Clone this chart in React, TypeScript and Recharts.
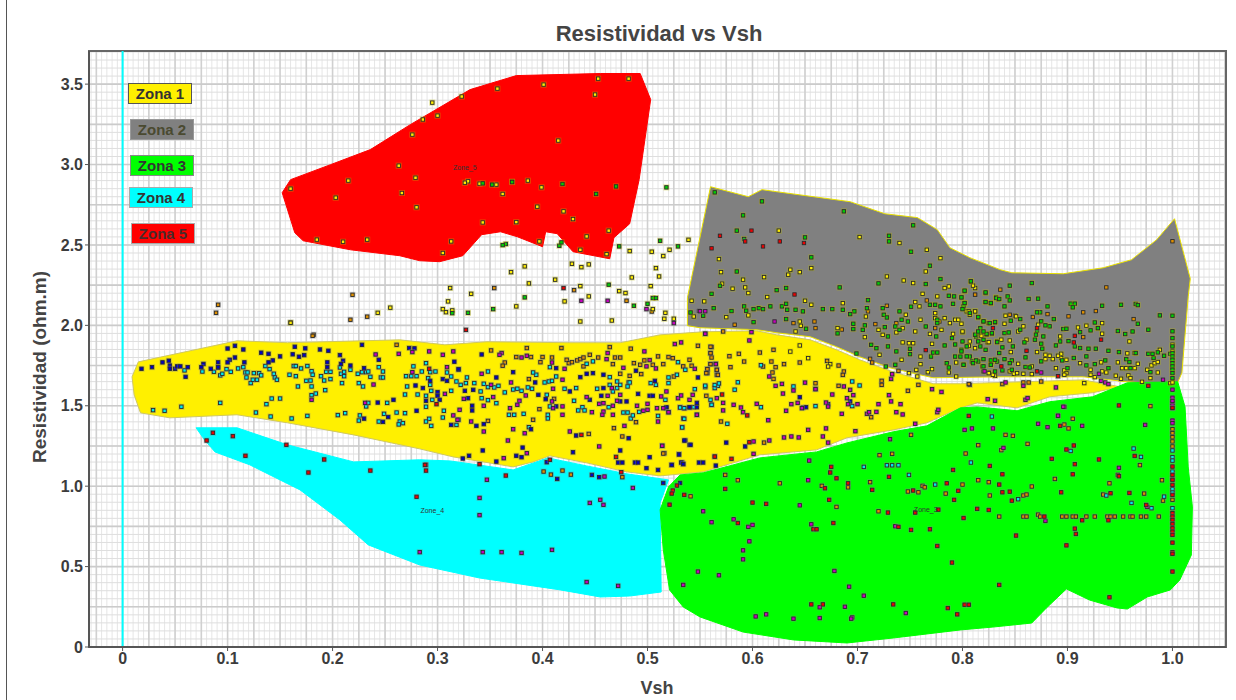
import React from 'react';
import {
  ScatterChart,
  Scatter,
  XAxis,
  YAxis,
  CartesianGrid,
  ReferenceLine,
  ReferenceArea,
  ReferenceDot,
} from 'recharts';

type Pt = [number, number];

const xTicks = [0, 0.1, 0.2, 0.3, 0.4, 0.5, 0.6, 0.7, 0.8, 0.9, 1.0];
const yTicks = [0, 0.5, 1.0, 1.5, 2.0, 2.5, 3.0, 3.5];
const xDomain: Pt = [-0.032, 1.051];
const yDomain: Pt = [0, 3.706];

const zone1: Pt[] = [[.009,1.68],[.011,1.568],[.017,1.456],[.045,1.425],[.109,1.444],[.157,1.394],[.22,1.319],[.283,1.232],[.315,1.182],[.372,1.12],[.391,1.151],[.407,1.189],[.442,1.145],[.48,1.089],[.512,1.064],[.553,1.089],[.607,1.195],[.661,1.226],[.69,1.301],[.734,1.35],[.766,1.394],[.798,1.487],[.814,1.518],[.852,1.487],[.883,1.556],[.924,1.581],[.95,1.618],[.915,1.661],[.798,1.637],[.772,1.637],[.731,1.717],[.702,1.786],[.68,1.848],[.655,1.91],[.623,1.941],[.604,1.966],[.553,1.96],[.512,1.941],[.474,1.892],[.426,1.892],[.347,1.898],[.307,1.879],[.264,1.91],[.157,1.892],[.109,1.904],[.015,1.773],[.009,1.68]];
const zone2: Pt[] = [[.56,2.862],[.596,2.8],[.609,2.844],[.623,2.831],[.693,2.769],[.726,2.694],[.757,2.67],[.776,2.595],[.788,2.483],[.807,2.421],[.836,2.346],[.847,2.327],[.896,2.321],[.934,2.358],[.961,2.408],[.985,2.533],[1.002,2.663],[1.017,2.29],[1.015,2.178],[1.009,1.705],[1.004,1.63],[.957,1.649],[.915,1.68],[.836,1.68],[.772,1.674],[.731,1.736],[.702,1.805],[.68,1.867],[.655,1.929],[.623,1.954],[.604,1.973],[.55,1.985],[.538,1.998],[.538,2.172],[.56,2.862]];
const zone3: Pt[] = [[.512,.853],[.515,.604],[.521,.355],[.534,.249],[.55,.187],[.591,.093],[.639,.044],[.69,.025],[.734,.056],[.798,.106],[.829,.124],[.866,.149],[.88,.243],[.899,.361],[.921,.292],[.947,.243],[.957,.236],[.976,.311],[.998,.355],[1.007,.417],[1.018,.572],[1.019,.871],[1.015,1.12],[1.012,1.493],[1.005,1.649],[.957,1.643],[.924,1.556],[.883,1.525],[.852,1.469],[.814,1.493],[.798,1.487],[.766,1.375],[.734,1.338],[.69,1.269],[.661,1.213],[.607,1.176],[.553,1.083],[.531,1.07],[.52,.996],[.512,.853]];
const zone4: Pt[] = [[.07,1.363],[.109,1.363],[.157,1.257],[.22,1.151],[.283,1.164],[.312,1.157],[.372,1.101],[.405,1.176],[.442,1.126],[.48,1.077],[.52,1.039],[.512,.896],[.513,.342],[.483,.317],[.455,.311],[.417,.355],[.34,.429],[.283,.51],[.234,.635],[.207,.79],[.169,.977],[.121,1.133],[.088,1.213],[.078,1.288],[.07,1.363]];
const zone5: Pt[] = [[.152,2.825],[.164,2.576],[.172,2.526],[.217,2.47],[.264,2.433],[.283,2.402],[.302,2.396],[.324,2.433],[.342,2.564],[.36,2.582],[.376,2.551],[.4,2.489],[.403,2.582],[.414,2.57],[.429,2.458],[.464,2.414],[.468,2.545],[.483,2.632],[.492,2.906],[.503,3.404],[.493,3.566],[.455,3.566],[.375,3.553],[.331,3.466],[.274,3.248],[.236,3.093],[.198,2.999],[.16,2.906],[.152,2.825]];

const bluePts: Pt[] = [[.018,1.73],[.028,1.74],[.038,1.77],[.044,1.78],[.045,1.75],[.045,1.73],[.05,1.73],[.052,1.745],[.055,1.745],[.062,1.74],[.06,1.68],[.077,1.76],[.075,1.74],[.084,1.73],[.091,1.77],[.091,1.74],[.1,1.856],[.107,1.873],[.115,1.85],[.107,1.8],[.102,1.786],[.1,1.77],[.116,1.77],[.132,1.83],[.139,1.823],[.15,1.807],[.143,1.782],[.139,1.77],[.164,1.867],[.174,1.857],[.162,1.82],[.168,1.805],[.173,1.815],[.188,1.85],[.196,1.842],[.207,1.815],[.21,1.78],[.208,1.76],[.195,1.77],[.195,1.74],[.217,1.75],[.228,1.879],[.23,1.734],[.244,1.786],[.273,1.859],[.278,1.857],[.279,1.626],[.28,1.469],[.258,1.537],[.243,1.52],[.23,1.42],[.253,1.43],[.248,1.4],
  [.342,1.819],[.316,1.774],[.372,1.709],[.32,1.728],[.293,1.655],[.305,1.666],[.309,1.655],[.286,1.61],[.3,1.585],[.3,1.562],[.289,1.531],[.302,1.537],[.326,1.593],[.334,1.599],[.356,1.676],[.329,1.547],[.333,1.5],[.333,1.471],[.313,1.381],[.337,1.375],[.344,1.386],[.389,1.354],[.413,1.734],[.393,1.645],[.396,1.568],[.403,1.541],[.413,1.496],[.426,1.589],[.436,1.678],[.442,1.699],[.448,1.703],[.458,1.693],[.445,1.537],[.458,1.61],[.456,1.562],[.474,1.527],[.48,1.527],[.491,1.574],[.502,1.562],[.505,1.562],[.489,1.718],[.507,1.655],[.518,1.485],[.548,1.676],[.54,1.491],[.547,1.491],[.536,1.284],[.54,1.257],[.343,1.222],[.324,1.172],[.33,1.189],[.356,1.153],[.375,1.189],[.38,1.18],[.381,1.24],[.429,1.211],[.432,1.315],[.482,1.298],[.474,1.222],[.472,1.147],[.476,1.147],[.488,1.147],[.491,1.147],[.502,1.18],[.499,1.112],[.51,1.101],[.523,1.132],[.53,1.199],[.533,1.147],[.534,1.139],[.549,1.147],[.553,1.147],[.565,1.128],[.447,1.07],[.454,1.056],[.414,1.045],[.404,1.149],
  [.535,1.284],[.541,1.257],[.53,1.197],[.575,1.271],[.593,1.247],[.523,1.132],[.532,1.147],[.534,1.137],[.515,1.02],[.531,1.02],[.547,1.518],[.518,1.491],[.651,1.491],[.672,1.51],[.693,1.527],[.645,1.553]];

const cyanPts: Pt[] = [[.029,1.473],[.04,1.469],[.056,1.494],[.093,1.518],[.059,1.72],[.076,1.713],[.087,1.711],[.091,1.736],[.093,1.689],[.095,1.699],[.099,1.728],[.103,1.711],[.11,1.732],[.115,1.74],[.117,1.707],[.119,1.707],[.118,1.676],[.122,1.641],[.124,1.662],[.128,1.662],[.125,1.703],[.13,1.703],[.132,1.689],[.136,1.747],[.14,1.728],[.144,1.699],[.145,1.676],[.147,1.662],[.142,1.545],[.15,1.545],[.137,1.51],[.127,1.458],[.141,1.433],[.161,1.421],[.176,1.437],[.159,1.693],[.165,1.684],[.163,1.747],[.165,1.747],[.17,1.732],[.176,1.747],[.18,1.715],[.181,1.693],[.175,1.655],[.179,1.657],[.167,1.62],[.18,1.62],[.184,1.576],[.18,1.566],[.193,1.597],[.189,1.684],[.192,1.657],[.198,1.666],[.194,1.711],[.198,1.711],[.207,1.738],[.208,1.699],[.211,1.711],[.211,1.684],[.209,1.641],[.217,1.724],[.225,1.641],[.229,1.62],[.224,1.699],[.228,1.709],[.232,1.709],[.234,1.713],[.236,1.68],[.246,1.676],[.248,1.676],[.244,1.74],[.248,1.713],[.27,1.684],[.275,1.684],[.277,1.745],[.28,1.684],[.271,1.62],[.269,1.57],[.281,1.57],[.252,1.518],[.234,1.518],[.232,1.496],[.205,1.442],[.212,1.454],[.226,1.44],[.225,1.408],[.249,1.45],[.244,1.402],[.261,1.458],[.269,1.454],[.264,1.402],[.267,1.392],[.263,1.384],
  [.289,1.765],[.285,1.713],[.293,1.709],[.298,1.713],[.309,1.707],[.313,1.682],[.32,1.724],[.291,1.672],[.293,1.63],[.294,1.593],[.289,1.562],[.295,1.537],[.289,1.494],[.306,1.469],[.305,1.427],[.32,1.413],[.292,1.419],[.289,1.402],[.294,1.375],[.318,1.381],[.313,1.593],[.318,1.651],[.322,1.63],[.328,1.676],[.327,1.641],[.335,1.641],[.344,1.637],[.348,1.616],[.348,1.713],[.341,1.589],[.342,1.547],[.348,1.535],[.354,1.614],[.358,1.624],[.356,1.516],[.364,1.583],[.372,1.601],[.376,1.606],[.38,1.593],[.386,1.614],[.39,1.606],[.394,1.693],[.391,1.707],[.402,1.645],[.406,1.651],[.409,1.655],[.413,1.682],[.404,1.568],[.407,1.496],[.405,1.444],[.405,1.421],[.368,1.444],[.373,1.444],[.382,1.45],[.387,1.367],[.407,1.74],[.421,1.606],[.432,1.61],[.43,1.531],[.434,1.471],[.438,1.491],[.44,1.471],[.442,1.761],[.448,1.776],[.452,1.606],[.463,1.491],[.464,1.678],[.471,1.651],[.471,1.61],[.464,1.63],[.467,1.589],[.474,1.63],[.482,1.645],[.483,1.645],[.481,1.62],[.477,1.458],[.481,1.458],[.484,1.421],[.486,1.44],[.492,1.462],[.503,1.641],[.508,1.63],[.517,1.537],[.52,1.676],[.528,1.693],[.52,1.641],[.529,1.771],[.536,1.724],[.545,1.603],[.555,1.616],[.564,1.61],[.567,1.624],[.56,1.537],[.561,1.506],[.531,1.491],[.535,1.485],[.544,1.491],[.534,1.421],[.533,1.367],[.51,1.437],
  [.555,1.625],[.564,1.629],[.568,1.639],[.586,1.646],[.583,1.6],[.608,1.752],[.639,1.62],[.695,1.651],[.702,1.626],[.535,1.419],[.533,1.365],[.576,1.388],[.561,1.506],[.608,1.491],[.54,1.489],[.535,1.485],[.531,1.489],[.648,1.489],[.66,1.498],[.695,1.498],[.706,1.12],[.728,1.13],[.733,1.13],[.739,1.13],[.749,1.07],[.774,1.01],[.828,1.433],[.808,1.147],[.903,1.219],[.963,1.234],[.97,1.182],[.937,.942],[.853,.919],[.961,.896],[.992,.935],[.98,.863],[1,1.222],[1,1.18],[1,1.159],[1,1.091],[1,.981],[1,.96],[1,.863]];

const magentaPts: Pt[] = [[.241,1.819],[.263,1.823],[.276,1.834],[.239,1.632],[.231,1.518],[.18,1.537],[.276,1.709],
  [.292,1.838],[.305,1.817],[.315,1.838],[.309,1.74],[.342,1.699],[.361,1.828],[.359,1.817],[.385,1.811],[.38,1.8],[.409,1.769],[.421,1.73],[.462,1.828],[.461,1.79],[.477,1.736],[.497,1.838],[.502,1.784],[.499,1.745],[.508,1.732],[.526,1.884],[.532,1.894],[.555,1.948],[.545,1.73],[.419,1.662],[.41,1.606],[.351,1.63],[.37,1.645],[.353,1.554],[.325,1.543],[.307,1.574],[.321,1.475],[.315,1.44],[.319,1.413],[.332,1.402],[.344,1.5],[.369,1.485],[.378,1.531],[.376,1.506],[.384,1.564],[.372,1.354],[.383,1.329],[.344,1.34],[.367,1.284],[.426,1.34],[.454,1.247],[.478,1.375],[.514,1.251],[.51,1.402],[.547,1.444],[.419,1.444],[.41,1.485],[.409,1.527],[.419,1.496],[.442,1.554],[.447,1.46],[.458,1.464],[.457,1.444],[.467,1.444],[.454,1.512],[.467,1.5],[.471,1.531],[.458,1.516],[.462,1.562],[.466,1.61],[.474,1.568],[.49,1.5],[.496,1.469],[.5,1.475],[.5,1.512],[.509,1.485],[.513,1.558],[.518,1.589],[.52,1.46],[.529,1.547],[.532,1.564],[.54,1.537],[.543,1.568],[.566,1.547],[.363,1.174],[.385,1.205],[.459,1.06],
  [.437,2.153],[.462,2.153],[.499,2.101],[.525,2.014],[.549,2.09],[.555,1.948],[.599,1.958],[.597,1.906],[.621,2.024],[.565,1.759],[.616,1.682],[.622,1.624],[.628,1.636],[.639,1.595],[.65,1.644],[.66,1.603],[.629,1.576],[.676,1.57],[.687,1.62],[.693,1.599],[.69,1.547],[.696,1.566],[.73,1.566],[.732,1.667],[.733,1.696],[.771,1.603],[.78,1.586],[.555,2.088],[.55,2.088],
  [.515,1.485],[.52,1.46],[.547,1.444],[.572,1.471],[.572,1.518],[.582,1.506],[.589,1.489],[.591,1.46],[.604,1.512],[.632,1.469],[.637,1.51],[.643,1.518],[.647,1.485],[.653,1.35],[.67,1.359],[.667,1.309],[.672,1.271],[.63,1.303],[.637,1.309],[.644,1.303],[.601,1.278],[.616,1.284],[.601,1.201],[.615,1.41],[.698,1.342],[.685,1.45],[.709,1.45],[.711,1.46],[.718,1.462],[.737,1.46],[.743,1.446],[.755,1.388],[.731,1.292],[.776,1.46],[.777,1.475],[.72,1.51],[.741,1.51],[.732,1.527],[.691,1.51],[.7,1.51],[.67,1.52],[.672,1.495],[.514,1.251],
  [.654,1.159],[.653,1.037],[.645,.881],[.553,.844],[.561,.776],[.582,.794],[.596,.747],[.6,.759],[.656,.763],[.597,.657],[.591,.601],[.591,.545],[.548,.469],[.568,.446],[.534,.386],[.678,.473],[.692,.375],[.706,.319],[.664,.247],[.688,.25],[.695,.184],[.694,.176],[.664,.18],[.639,.176],[.613,.203],[.603,.19],[.746,.211],[.736,.751],
  [.897,1.493],[.891,1.437],[.872,1.388],[.881,1.367],[.914,1.375],[.974,1.381],[.802,1.35],[.809,1.359],[.829,1.359],[.839,1.238],[.949,1.114],[.976,.871],[.879,.784],[1,1.52],[1,1.502],[1,1.408],[1,1.392],[1,1.6],[1,1.55],[1,1.53],
  [.821,1.714],[.841,1.645],[.858,1.624],[.875,1.707],[.889,1.614],[.932,1.655],[.936,1.645],[.939,1.635],[.93,1.699],[.991,1.662],[.824,1.541],[.831,1.531],[.86,1.537],[.862,1.548],[.896,1.494],[.891,1.438],
  [.283,.59],[.343,.59],[.361,.59],[.38,.585],[.409,.604],[.442,.404],[.472,.38],[.34,.82],[.34,.927],[.347,1.04],[.289,1.133],[.455,.915],[.458,.884],[.445,.896],[.486,.989]];

const redPts: Pt[] = [[.086,1.332],[.08,1.284],[.105,1.311],[.156,1.257],[.117,1.189],[.192,1.166],[.177,1.085],[.236,1.097],[.292,1.73],[.299,1.51],[.437,1.319],[.47,1.182],[.564,1.184],[.34,1.137],[.288,1.132],[.289,1.097],[.365,1.066],[.475,1.087],[.407,1.164],[.42,2.232],[.327,1.972],
  [.569,2.557],[.561,2.479],[.599,2.589],[.593,2.522],[.626,2.522],[.61,2.491],[.649,2.512],[.64,2.192],[.765,1.846],[.571,1.57],
  [.595,1.44],[.597,1.273],[.564,1.184],[.58,1.17],[.675,1.12],[.674,1.085],[.68,1.049],[.691,1.018],[.669,.987],[.673,.915],[.73,1.058],[.714,.977],[.753,.973],[.791,1.101],[.785,1.018],[.796,.971],[.792,.915],[.777,.854],[.755,.836],[.729,.836],[.677,.771],[.658,.732],[.661,.732],[.586,.771],[.613,.89],[.6,.898],[.574,.983],[.535,.946],[.528,1.004],[.524,.973],[.523,.954],[.521,.885],[.739,.747],[.751,.728],[.769,.732],[.776,.628],[.79,.525],[.656,.265],[.667,.265],[.734,.265],[.786,.242],[.795,.203],
  [.949,1.502],[.806,1.437],[.893,1.375],[.906,1.253],[.899,1.228],[.885,1.17],[.907,1.137],[.93,1.166],[.964,1.188],[.826,1.126],[.838,1.074],[.835,1.01],[.905,1.074],[.948,1.07],[.949,1.062],[.838,.962],[.845,.966],[.847,.91],[.894,.962],[.941,.956],[.959,.958],[.975,.883],[.814,.859],[.825,.852],[.801,.802],[.878,.811],[.914,.788],[.939,.788],[.907,.736],[.908,.703],[.851,.693],[.899,.632],[.835,.386],[.802,.263],[.806,.263],[.94,.309],
  [1,1.485],[1,1.122],[1,1.07],[1,1.039],[1,1.008],[1,.946],[1,.832],[1,.811],[1,.79],[1,.765],[1,.738],[1,.717],[1,.697],[1,.649],[1,.589],[1,.579],[1,.469],[1,1.487],
  [.829,1.983],[.861,1.842],[.837,1.745],[.871,1.714],[.891,1.684],[.907,1.935],[.906,1.894],[.932,1.911],[.871,1.983],[.977,1.624],[.28,.934]];

const orangePts: Pt[] = [[.261,1.879],[.16,2.018],[.182,1.942],[.091,2.128],[.089,2.078],[.181,1.935],[.219,2.19],[.217,2.035],[.233,2.054],
  [.351,1.844],[.385,1.859],[.418,1.859],[.464,1.865],[.484,1.855],[.548,1.873],[.561,1.865],[.56,1.828],[.561,1.8],[.375,1.803],[.389,1.803],[.4,1.803],[.409,1.8],[.398,1.771],[.364,1.769],[.362,1.749],[.423,1.786],[.425,1.765],[.428,1.771],[.433,1.782],[.436,1.79],[.439,1.8],[.445,1.817],[.453,1.8],[.469,1.8],[.474,1.8],[.467,1.759],[.487,1.765],[.493,1.755],[.439,1.745],[.474,1.699],[.483,1.686],[.494,1.697],[.497,1.782],[.505,1.755],[.51,1.807],[.515,1.759],[.52,1.803],[.524,1.796],[.54,1.786],[.542,1.749],[.534,1.745],[.56,1.759],[.565,1.761],[.557,1.728],[.557,1.703],[.566,1.724],[.566,1.693],[.525,1.682],[.387,1.666],[.348,1.406],[.391,1.413],[.397,1.479],[.468,1.361],[.489,1.398],[.476,1.309],[.444,1.325],[.516,1.205],[.411,1.543],[.556,1.562],
  [.401,1.091],[.408,1.072],[.419,1.097],[.427,1.072],[.476,1.056],[.354,2.232],[.43,2.219],[.48,2.153],[.504,2.086],
  [.583,2.004],[.572,1.962],[.639,2.014],[.659,2.024],[.66,1.983],[.685,1.974],[.717,2.008],[.737,2.014],[.766,2.155],[.812,2.19],[.728,2.122],[.71,2.087],[.774,1.983],[.778,2.024],[.56,1.867],[.56,1.827],[.578,1.808],[.587,1.823],[.607,1.831],[.62,1.848],[.592,1.775],[.579,1.74],[.56,1.759],[.557,1.728],[.556,1.703],[.566,1.723],[.567,1.692],[.62,1.667],[.61,1.744],[.618,1.775],[.622,1.74],[.63,1.759],[.645,1.769],[.619,1.707],[.671,1.779],[.682,1.75],[.687,1.713],[.686,1.692],[.712,1.792],[.714,1.769],[.739,1.717],[.723,1.655],[.723,1.63],[.682,1.624],[.758,1.63],[.748,1.593],[.807,1.63],[.66,1.64],[.66,1.605],
  [.57,1.402],[.611,1.271],[.713,1.429],[.515,1.203],[.574,1.07],[.586,1.037],[.626,1.018],[.666,1.002],[.691,.993],[.712,1.025],[.68,.871],[.541,.937],[.72,.844],[.751,1.319],[.721,1.193],[.733,1.201],[.748,.967],[.758,.962],[.762,1.002],[.764,.993],[.784,.954],
  [.979,1.498],[.905,1.419],[.897,1.383],[.901,1.359],[.841,1.319],[.848,1.313],[.862,1.263],[.815,1.255],[.803,1.203],[.837,1.224],[.969,1.131],[.94,1.018],[.8,1.01],[.815,1.037],[.825,1.025],[.888,1.045],[.866,.998],[.99,1.037],[.826,.942],[.858,.942],[.861,.948],[.934,.948],[.973,.954],[.991,.91],[.835,.811],[.858,.811],[.861,.811],[.872,.823],[.874,.811],[.895,.811],[.899,.811],[.905,.811],[.908,.811],[.918,.811],[.926,.811],[.938,.811],[.941,.811],[.945,.811],[.953,.811],[.96,.811],[.962,.811],[.97,.811],[.975,.811],[.987,.811],
  [1,1.354],[1,1.33],[1,1.305],[1,1.278],[1,1.247],[1,1.043],[1,.915],
  [.836,2.222],[.812,2.191],[.937,2.236],[.901,2.056],[.881,2.07],[.867,2.052],[.845,2.066],[.85,2.06],[.915,2.081],[.927,2.089],[.963,2.039],[.915,1.927],[1,2.523],[.806,1.635],[.838,1.635],[.858,1.645],[.863,1.645],[.875,1.651]];

const greenPts: Pt[] = [[.343,2.883],[.352,2.875],[.371,2.891],[.419,2.879],[.451,2.817],[.47,2.864],[.518,2.858],[.365,2.506],[.362,2.499],[.416,2.495],[.418,2.516],[.473,2.491],[.512,2.526],[.529,2.491],[.463,2.253],[.383,2.174],[.353,2.101],[.329,2.078],[.314,2.076],[.487,2.122],[.5,2.134],[.505,2.17],[.508,2.17],[.541,2.08],
  [.564,2.827],[.609,2.771],[.591,2.684],[.585,2.589],[.592,2.537],[.687,2.709],[.753,2.622],[.73,2.557],[.73,2.522],[.65,2.547],[.751,2.458],[.656,2.423],[.585,2.335],[.769,2.371],[.569,2.246],[.561,2.196],[.623,2.219],[.632,2.232],[.683,2.236],[.72,2.261],[.779,2.288],[.765,2.257],[.802,2.213],[.808,2.273],[.822,2.201],[.832,2.174],[.563,2.107],[.58,2.089],[.553,2.06],[.592,2.118],[.594,2.091],[.601,2.101],[.606,2.107],[.61,2.101],[.617,2.118],[.628,2.118],[.632,2.134],[.633,2.097],[.641,2.097],[.648,2.087],[.667,2.101],[.676,2.101],[.686,2.097],[.71,2.157],[.697,2.087],[.693,2.07],[.709,2.107],[.724,2.107],[.725,2.066],[.728,2.049],[.74,2.087],[.751,2.116],[.769,2.128],[.774,2.128],[.779,2.118],[.787,2.184],[.792,2.18],[.799,2.174],[.791,2.134],[.802,2.138],[.801,2.118],[.822,2.145],[.827,2.138],[.834,2.163],[.601,2.02],[.632,2.039],[.651,1.979],[.681,1.95],[.696,2.01],[.696,1.977],[.707,2],[.705,1.972],[.726,1.989],[.736,1.993],[.742,2.035],[.748,2.024],[.74,1.972],[.765,1.993],[.776,2.035],[.776,2.014],[.79,1.921],[.729,1.931],[.713,1.879],[.718,1.858],[.729,1.869],[.737,1.838],[.75,1.854],[.75,1.821],[.77,1.806],[.772,1.831],[.776,1.831],[.775,1.931],[.783,1.875],[.793,1.881],[.799,1.848],[.793,1.806],[.798,1.806],[.807,1.806],[.815,2.049],[.82,2.024],[.825,2.014],[.831,2.018],[.823,1.947],[.815,1.952],[.813,1.931],[.82,1.91],[.828,1.947],[.833,1.896],[.699,1.825],[.727,1.744],[.736,1.755],[.785,1.765],[.787,1.738],[.801,1.755],[.809,1.775],[.815,1.775],[.828,1.775],[.827,1.755],[.833,1.775],[.831,1.713],
  [.808,2.274],[.802,2.216],[.822,2.205],[.845,2.247],[.866,2.263],[.843,2.18],[.845,2.155],[.832,2.17],[.835,2.164],[.863,2.164],[.872,2.166],[.822,2.145],[.827,2.139],[.84,2.118],[.881,2.118],[.903,2.135],[.907,2.135],[.905,2.112],[.933,2.122],[.951,2.128],[.965,2.133],[.967,2.126],[.988,2.062],[.967,2.01],[.874,2.081],[.871,2.081],[.887,2.039],[.846,2.029],[.855,2.039],[.875,2.025],[.883,1.994],[.879,2],[.831,2.021],[.826,2.014],[.82,2.025],[.815,2.052],[.807,2.077],[.802,2.139],[.799,2.174],[.8,2.101],[.817,1.983],[.812,1.942],[.815,1.962],[.82,1.962],[.828,1.952],[.84,1.952],[.844,1.956],[.855,1.973],[.871,1.967],[.896,1.977],[.899,1.979],[.912,1.958],[.922,1.969],[.929,1.983],[.926,2.018],[.948,1.965],[.955,1.946],[.962,1.962],[.977,1.973],[.877,1.931],[.87,1.942],[.869,1.911],[.859,1.894],[.848,1.869],[.838,1.863],[.822,1.848],[.817,1.869],[.815,1.9],[.8,1.9],[.804,1.869],[.799,1.838],[.804,1.807],[.813,1.782],[.82,1.79],[.827,1.782],[.831,1.786],[.84,1.79],[.835,1.828],[.847,1.782],[.893,1.9],[.875,1.886],[.876,1.855],[.889,1.875],[.901,1.902],[.907,1.869],[.912,1.859],[.92,1.855],[.927,1.855],[.939,1.842],[.949,1.834],[.965,1.828],[.977,1.823],[.986,1.832],[.982,1.797],[.992,1.811],[.998,1.823],[.981,1.823],[.918,1.807],[.906,1.797],[.895,1.782],[.875,1.776],[.86,1.801],[.801,1.755],[.827,1.755],[.845,1.765],[.82,1.745],[.81,1.765],[.838,1.72],[.847,1.724],[.86,1.741],[.864,1.738],[.9,1.734],[.918,1.751],[.926,1.759],[.936,1.782],[.939,1.734],[.956,1.79],[.959,1.772],[.96,1.734],[.979,1.709],
  [1,2.06],[1,1.963],[1,1.921],[1,1.869],[1,1.828],[1,1.807],[1,1.786],[1,1.765],[1,1.745],[1,1.724],[1,1.703],[1,1.672]];

const yellowPts: Pt[] = [[.266,2.823],[.28,2.734],[.329,2.896],[.362,2.817],[.399,2.858],[.395,2.738],[.42,2.709],[.429,2.661],[.375,2.642],[.343,2.64],[.313,2.522],[.305,2.45],[.397,2.522],[.442,2.553],[.463,2.589],[.436,2.47],[.461,2.443],[.16,2.85],[.215,2.9],[.203,2.794],[.185,2.533],[.21,2.52],[.233,2.533],[.263,2.993],[.279,2.918],[.326,2.887],[.34,2.881],[.356,2.875],[.371,2.894],[.386,2.9],[.415,3.149],[.276,3.186],[.286,3.28],[.3,3.304],[.295,3.385],[.323,3.423],[.357,3.472],[.401,3.497],[.45,3.435],[.453,3.534],[.482,3.534],
  [.37,2.331],[.383,2.367],[.312,2.232],[.332,2.196],[.31,2.149],[.305,2.101],[.308,2.082],[.314,2.093],[.387,2.261],[.375,2.118],[.412,2.284],[.428,2.383],[.437,2.362],[.444,2.379],[.436,2.244],[.444,2.18],[.421,2.149],[.485,2.298],[.483,2.462],[.504,2.458],[.515,2.431],[.521,2.47],[.508,2.356],[.511,2.304],[.503,2.244],[.473,2.213],[.479,2.201],[.505,2.101],[.517,2.078],[.516,2.041],[.525,2.041],[.466,2.03],[.436,2.024],[.542,2.153],[.544,2.055],[.539,2.532],[.16,2.016],[.243,2.078],[.255,2.11],
  [.568,2.412],[.57,2.331],[.591,2.284],[.593,2.236],[.596,2.201],[.581,2.228],[.571,2.259],[.611,2.3],[.614,2.176],[.636,2.346],[.634,2.315],[.645,2.331],[.656,2.356],[.554,2.149],[.575,2.051],[.596,2.062],[.645,2.024],[.646,1.997],[.641,1.962],[.65,2.153],[.656,2.128],[.686,2.138],[.681,1.983],[.72,1.972],[.724,1.941],[.708,2.055],[.707,1.927],[.728,2.304],[.744,2.279],[.753,2.263],[.762,2.196],[.776,2.18],[.765,2.335],[.779,2.418],[.74,2.512],[.766,2.47],[.702,2.549],[.625,2.589],[.812,2.087],[.804,2.087],[.807,2.066],[.759,2.118],[.755,2.145],[.746,2.066],[.76,2.035],[.755,1.962],[.737,1.956],[.743,1.983],[.743,1.894],[.749,1.889],[.753,1.889],[.769,1.947],[.771,1.885],[.76,1.806],[.783,2.045],[.774,2.076],[.774,2.045],[.788,2.014],[.793,2.035],[.796,2.035],[.78,1.972],[.791,1.947],[.8,1.958],[.806,1.873],[.812,1.858],[.824,1.894],[.721,1.817],[.742,1.786],[.749,1.703],[.757,1.682],[.76,1.759],[.756,1.723],[.767,1.709],[.771,1.728],[.787,1.707],[.794,1.769],[.794,1.682],[.831,1.686],[.825,1.707],[.787,2.242],[.783,2.232],[.653,1.796],[.645,1.875],[.636,1.837],[.674,1.759],[.672,1.744],
  [.812,2.232],[.81,2.247],[.799,2.01],[.807,1.9],[.806,1.873],[.825,1.896],[.833,1.9],[.837,1.911],[.845,1.906],[.851,2.056],[.841,2.06],[.84,2.01],[.858,1.994],[.853,1.962],[.861,1.911],[.872,2.004],[.893,1.931],[.894,1.823],[.894,1.797],[.891,1.811],[.886,1.79],[.879,1.817],[.879,1.79],[.883,1.811],[.871,1.834],[.846,1.834],[.853,1.761],[.866,1.745],[.849,1.699],[.852,1.703],[.858,1.699],[.866,1.697],[.845,1.714],[.829,1.693],[.825,1.703],[.82,1.714],[.819,1.745],[.818,1.935],[.823,1.942],[.806,2.087],[.812,2.087],[.8,1.962],[.91,1.987],[.918,1.998],[.929,1.983],[.933,1.948],[.933,2.014],[.899,1.786],[.889,1.734],[.897,1.72],[.899,1.703],[.897,1.693],[.912,1.765],[.922,1.724],[.922,1.693],[.926,1.678],[.932,1.77],[.933,1.714],[.937,1.707],[.946,1.687],[.951,1.668],[.948,1.77],[.952,1.734],[.956,1.734],[.964,1.734],[.967,1.761],[.958,1.689],[.96,1.672],[.959,1.9],[.957,1.826],[.964,1.828],[.98,1.751],[.983,1.765],[.986,1.772],[.976,1.724],[.979,1.672],[.986,1.707],[.971,1.649],[.988,1.848],[.998,1.641],[.916,1.641],[1,1.88],[1,1.838],[1,1.645]];

// gridline positions, finest to coarsest
const steps = (lo: number, hi: number, step: number) => {
  const out: number[] = [];
  const n = Math.round((hi - lo) / step);
  for (let i = 0; i <= n; i++) out.push(Number((lo + i * step).toFixed(3)));
  return out;
};
const xFine = steps(-0.03, 1.05, 0.005);
const xMedium = steps(-0.025, 1.05, 0.025);
const yFine = steps(0, 3.7, 0.05);
const yMedium = steps(0, 3.5, 0.25);

const rows = (pts: Pt[]) => pts.map(([x, y]) => ({ x, y }));
const fmt = (v: number) => (v === 0 ? '0' : v.toFixed(1));

const Marker = (props: any) => {
  const { cx, cy, fill, halo } = props;
  if (cx == null || cy == null) return null;
  return (
    <g>
      <rect x={cx - 3} y={cy - 3} width={6} height={6} fill={halo} fillOpacity={0.4} />
      <rect x={cx - 1.7} y={cy - 1.7} width={3.4} height={3.4} fill={fill} stroke="#2a2a2a" strokeWidth={0.9} />
    </g>
  );
};
const NoMark = () => <g />;

const zones = [
  { name: 'zone4', pts: zone4, color: '#00ffff', edge: '#00ffff' },
  { name: 'zone1', pts: zone1, color: '#fff000', edge: '#d0c860' },
  { name: 'zone2', pts: zone2, color: '#808080', edge: '#e8e000' },
  { name: 'zone3', pts: zone3, color: '#00ff00', edge: '#00ff00' },
  { name: 'zone5', pts: zone5, color: '#ff0000', edge: '#ff0000' },
];

const series = [
  { name: 'orange', pts: orangePts, color: '#e09000', halo: '#888' },
  { name: 'yellow', pts: yellowPts, color: '#ffee00', halo: '#b8b800' },
  { name: 'green', pts: greenPts, color: '#00d000', halo: '#b8b800' },
  { name: 'cyan', pts: cyanPts, color: '#00e8f0', halo: '#888' },
  { name: 'blue', pts: bluePts, color: '#0000c8', halo: '#888' },
  { name: 'magenta', pts: magentaPts, color: '#c800c0', halo: '#888' },
  { name: 'red', pts: redPts, color: '#f00000', halo: '#888' },
];

const legend = [
  { label: 'Zona 1', left: 128, top: 83, bg: '#fff000', border: '#555', color: '#333' },
  { label: 'Zona 2', left: 130, top: 119, bg: '#808080', border: '#999', color: '#4a4a30' },
  { label: 'Zona 3', left: 130, top: 155, bg: '#00ff00', border: '#888', color: '#333' },
  { label: 'Zona 4', left: 129, top: 187, bg: '#00ffff', border: '#aaa', color: '#333' },
  { label: 'Zona 5', left: 131, top: 223, bg: '#ff0000', border: '#aaa', color: '#4a2a2a' },
];

const zoneLabels = [
  { text: 'Zone_5', x: 0.326, y: 2.98 },
  { text: 'Zone_4', x: 0.295, y: 0.846 },
  { text: 'Zone_3', x: 0.765, y: 0.853 },
];

const font = '"Liberation Sans", Arial, sans-serif';
const tickStyle = { fontSize: 16, fontWeight: 700, fill: '#3c3c3c', fontFamily: font };

const App = () => {
  return (
    <div style={{ position: 'absolute', left: 0, top: 0, width: 1236, height: 700, background: '#fff', overflow: 'hidden' }}>
      <div style={{ position: 'absolute', left: 6, top: 0, width: 1, height: 700, background: '#555' }} />
      <ScatterChart width={1236} height={700} margin={{ top: 51, right: 10, bottom: 23, left: 29 }}>
        <CartesianGrid horizontal={false} verticalValues={xFine} stroke="#e6e6e6" strokeWidth={1} />
        <CartesianGrid horizontalValues={yFine} vertical={false} stroke="#dedede" strokeWidth={1} />
        <CartesianGrid horizontal={false} verticalValues={xMedium} stroke="#d0d0d0" strokeWidth={1.6} />
        <CartesianGrid horizontalValues={yMedium} vertical={false} stroke="#cbcbcb" strokeWidth={1.6} />

        <XAxis xAxisId="fine" type="number" dataKey="x" domain={xDomain} ticks={xFine} interval={0} tick={false} tickSize={2} height={0} axisLine={false} tickLine={{ stroke: '#555' }} />
        <XAxis xAxisId="medium" type="number" dataKey="x" domain={xDomain} ticks={xMedium} interval={0} tick={false} tickSize={3} height={0} axisLine={false} tickLine={{ stroke: '#555' }} />
        <XAxis type="number" dataKey="x" domain={xDomain} ticks={xTicks} interval={0} tickFormatter={fmt} tick={tickStyle} tickSize={4} tickMargin={2} height={30} axisLine={{ stroke: '#555', strokeWidth: 2 }} tickLine={{ stroke: '#555' }} />
        <YAxis yAxisId="fine" type="number" dataKey="y" domain={yDomain} ticks={yFine} interval={0} tick={false} tickSize={3} width={0} axisLine={false} tickLine={{ stroke: '#555' }} />
        <YAxis type="number" dataKey="y" domain={yDomain} ticks={yTicks} interval={0} tickFormatter={fmt} tick={tickStyle} tickSize={4} tickMargin={2} width={60} axisLine={{ stroke: '#555', strokeWidth: 2 }} tickLine={{ stroke: '#555' }} />

        <ReferenceArea x1={xDomain[0]} x2={xDomain[1]} y1={yDomain[0]} y2={yDomain[1]} fill="none" stroke="#666" strokeWidth={2} />
        <ReferenceLine x={0} stroke="#00ffff" strokeWidth={2} />

        {zones.map((z) => (
          <Scatter
            key={z.name}
            data={rows(z.pts)}
            fill={z.color}
            shape={NoMark}
            line={{ fill: z.color, stroke: z.edge, strokeWidth: 1 }}
            isAnimationActive={false}
          />
        ))}
        {series.map((s) => (
          <Scatter
            key={s.name}
            data={rows(s.pts)}
            fill={s.color}
            shape={(p: any) => <Marker {...p} halo={s.halo} />}
            isAnimationActive={false}
          />
        ))}
        {zoneLabels.map((l) => (
          <ReferenceDot
            key={l.text}
            x={l.x}
            y={l.y}
            r={0}
            stroke="none"
            isFront
            label={{ value: l.text, position: 'center', fontSize: 7, fill: '#333', fontFamily: font }}
          />
        ))}

        <text x={659} y={41} textAnchor="middle" fontFamily={font} fontWeight={700} fontSize={22} fill="#444">
          Resistividad vs Vsh
        </text>
        <text x={657} y={694} textAnchor="middle" fontFamily={font} fontWeight={700} fontSize={18} fill="#444">
          Vsh
        </text>
        <text x={46} y={367} textAnchor="middle" transform="rotate(-90 46 367)" fontFamily={font} fontWeight={700} fontSize={19} fill="#444">
          Resistividad (ohm.m)
        </text>
      </ScatterChart>

      {legend.map((l) => (
        <div
          key={l.label}
          style={{
            position: 'absolute',
            left: l.left,
            top: l.top,
            width: 62,
            height: 19,
            lineHeight: '19px',
            background: l.bg,
            border: `1px solid ${l.border}`,
            color: l.color,
            textAlign: 'center',
            fontFamily: font,
            fontWeight: 700,
            fontSize: 15,
          }}
        >
          {l.label}
        </div>
      ))}
    </div>
  );
};

export default App;
